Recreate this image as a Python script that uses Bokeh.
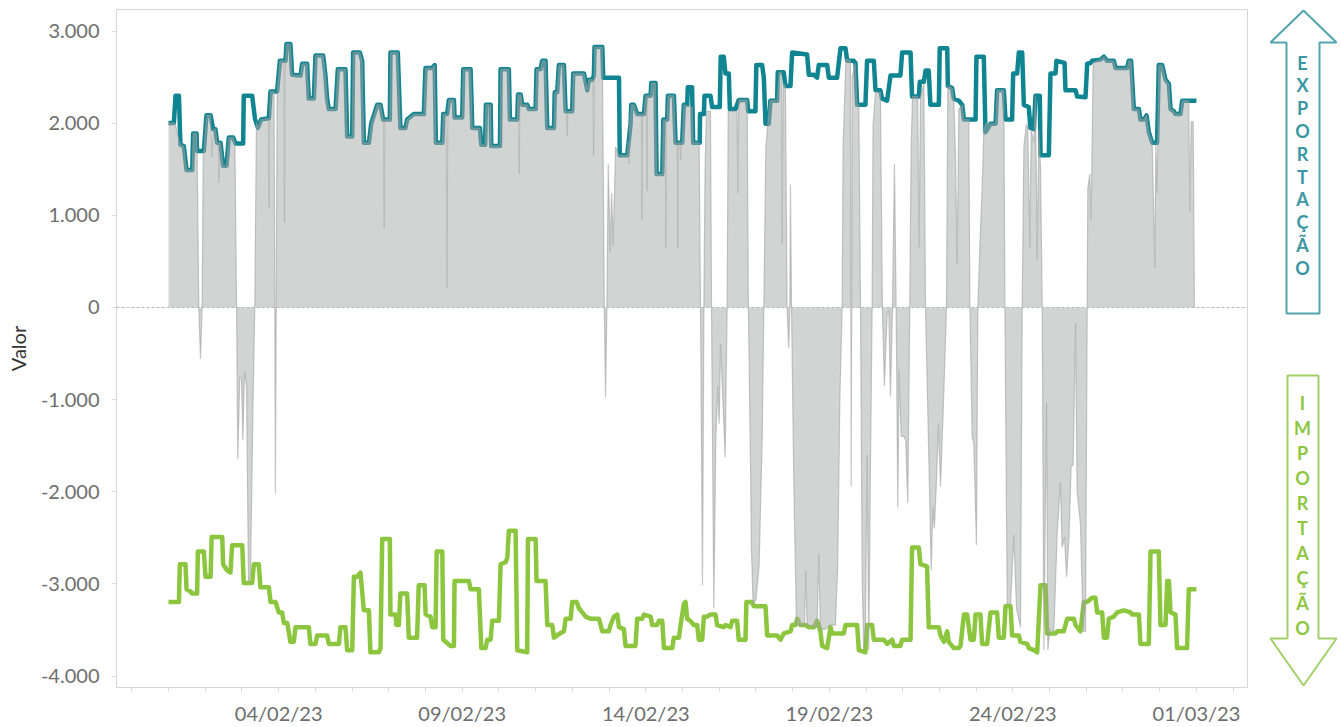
from bokeh.plotting import figure
from bokeh.models import Range1d, FixedTicker, Span
from bokeh.layouts import row
from bokeh.core.properties import value
from bokeh.embed import file_html
from bokeh.resources import INLINE

# ---------------- data (hours since 01/02/23 00:00, MW) ----------------
export_hours = [0, 3.5, 4.6, 6.8, 7.8, 10.0, 11.8, 15.5, 16.1, 18.3, 18.7, 23.1, 24.8, 27.5, 29.2, 30.7, 31.8, 34.0,
                35.7, 37.9, 39.4, 42.3, 43.8, 48.8, 49.2, 54.7, 56.5, 58.5, 60.5, 65.6, 66.7, 71.0, 72.8, 76.5, 77.1,
                79.7, 80.8, 86.3, 87.4, 90.6, 91.7, 95.0, 96.1, 101.1, 102.6, 103.7, 104.8, 109.2, 110.7, 115.7, 116.8,
                120.1, 120.7, 125.1, 126.6, 127.7, 131.0, 132.5, 136.4, 138.6, 140.3, 144.7, 145.1, 149.9, 151.6, 154.9,
                156.0, 160.4, 166.9, 168.0, 172.4, 174.0, 174.8, 179.0, 179.6, 182.2, 183.3, 186.6, 187.0, 192.0, 192.7,
                197.5, 198.6, 203.6, 204.5, 207.0, 207.5, 210.6, 211.0, 216.7, 217.1, 222.5, 223.2, 228.0, 228.5, 230.2,
                231.3, 234.5, 235.6, 240.0, 240.6, 243.2, 244.3, 246.5, 247.6, 252.0, 252.5, 254.1, 255.2, 258.5, 259.6,
                263.9, 264.6, 271.6, 273.8, 274.8, 277.0, 278.1, 278.5, 283.6, 284.2, 294.5, 295.0, 299.9, 302.1, 302.5,
                304.3, 306.4, 310.8, 311.9, 315.2, 315.6, 318.4, 319.1, 322.8, 323.5, 326.0, 326.5, 330.4, 331.5, 335.8,
                336.9, 339.1, 339.5, 342.3, 343.0, 347.3, 347.5, 350.0, 350.4, 354.3, 355.4, 360.4, 361.0, 363.0, 364.1,
                366.3, 367.0, 370.7, 372.8, 378.3, 379.0, 383.7, 384.3, 388.1, 389.2, 390.3, 392.4, 393.5, 397.9, 398.3,
                402.2, 403.3, 406.6, 407.7, 417.5, 418.6, 421.9, 424.0, 425.1, 430.6, 431.7, 437.1, 439.3, 442.6, 443.7,
                448.0, 449.1, 450.2, 455.6, 456.7, 461.1, 462.2, 465.4, 466.5, 469.8, 472.0, 478.5, 479.6, 485.1, 486.1,
                490.5, 491.2, 493.8, 494.9, 497.0, 498.1, 503.6, 504.2, 509.1, 509.5, 512.3, 513.4, 516.7, 518.9, 520.0,
                527.6, 528.2, 533.0, 534.1, 537.4, 540.7, 541.7, 546.1, 547.2, 551.5, 552.2, 554.8, 555.9, 558.1, 559.2,
                562.4, 563.5, 565.7, 566.8, 569.6, 570.1, 575.5, 576.6, 579.9, 580.5, 585.8, 586.4, 593.0, 594.0, 599.5,
                600.6, 602.8, 603.8, 609.3, 611.5, 613.6, 618.0, 619.1, 626.7, 627.8, 629.3, 631.1, 634.4, 635.4, 637.6,
                639.4, 640.9, 643.1, 646.3, 647.4, 649.6, 651.8, 654.0, 655.1, 657.2, 658.3, 661.6, 662.7, 672.0]
export_mw = [2003, 2003, 2299, 2299, 1766, 1752, 1493, 1493, 1889, 1889, 1698, 1698, 2085, 2085, 1935, 1935, 1789, 1789,
             1539, 1539, 1844, 1844, 1780, 1780, 2299, 2299, 2050, 1950, 2040, 2053, 2344, 2344, 2677, 2677, 2859,
             2859, 2526, 2517, 2645, 2645, 2267, 2267, 2736, 2736, 2517, 2267, 2153, 2153, 2586, 2586, 1857,
             1857, 2768, 2768, 2677, 1789, 1789, 1994, 2199, 2199, 2039, 2039, 2768, 2768, 1948, 1948,
             2039, 2099, 2099, 2599, 2599, 2631, 1789, 1789, 2099, 2099, 2253, 2253, 2062, 2062, 2586,
             2586, 1948, 1948, 1766, 1766, 2199, 2199, 1752, 1752, 2586, 2586, 2039, 2039, 2312, 2312,
             2199, 2199, 2153, 2153, 2586, 2586, 2677, 2677, 1948, 1948, 2335, 2335, 2631, 2631, 2130,
             2130, 2540, 2540, 2358, 2472, 2472, 2517, 2827, 2827, 2494, 2494, 1652, 1652, 1994, 2199,
             2199, 2099, 2099, 2299, 2299, 2435, 2435, 1448, 1448, 2039, 2039, 2299, 2299, 1789, 1789,
             2199, 2199, 2390, 2390, 1789, 1789, 2099, 2099, 2299, 2299, 2176, 2176, 2722, 2722, 2540,
             2540, 2153, 2153, 2253, 2253, 2130, 2130, 2631, 2631, 2494, 1994, 1994, 2244, 2244, 2554,
             2554, 2403, 2403, 2768, 2745, 2526, 2526, 2494, 2631, 2631, 2494, 2494, 2813, 2813, 2677,
             2677, 2654, 2199, 2199, 2677, 2677, 2358, 2358, 2267, 2244, 2517, 2517, 2768, 2768, 2290,
             2290, 2449, 2449, 2572, 2572, 2199, 2199, 2813, 2813, 2403, 2381, 2267, 2244, 2199, 2039,
             2039, 2722, 2722, 1903, 1994, 1994, 2358, 2358, 2039, 2039, 2540, 2540, 2768, 2768, 2199,
             2176, 1948, 1935, 2299, 2299, 1652, 1652, 2540, 2540, 2677, 2654, 2358, 2358, 2290, 2281,
             2645, 2654, 2677, 2690, 2722, 2677, 2677, 2599, 2599, 2677, 2677, 2153, 2153, 2039, 2039,
             2085, 1903, 1789, 1789, 2631, 2631, 2472, 2426, 2153, 2130, 2099, 2099, 2244, 2244]

import_hours = [0, 6.8, 7.4, 11.1, 11.8, 14.4, 15.5, 18.7, 19.2, 23.1, 24.2, 27.5, 28.2, 35.1, 35.7, 38.4, 40.5, 41.6,
                48.2, 49.2, 54.7, 55.8, 59.0, 60.1, 65.6, 66.7, 70.0, 72.1, 74.3, 75.4, 77.6, 79.7, 81.9, 83.0, 91.7,
                92.8, 96.1, 97.2, 103.7, 104.8, 111.4, 112.4, 115.7, 116.8, 120.1, 121.2, 123.3, 125.5, 127.7, 131.0,
                132.0, 137.5, 138.6, 139.7, 144.7, 145.1, 148.4, 149.0, 150.6, 151.6, 156.0, 157.1, 162.5, 163.6, 167.4,
                168.1, 171.3, 172.4, 174.6, 175.3, 179.0, 179.6, 184.4, 186.6, 187.0, 196.4, 197.5, 202.9, 204.5, 207.3,
                208.4, 210.6, 211.6, 216.0, 217.1, 220.4, 221.5, 222.5, 226.9, 228.0, 234.5, 235.0, 240.0, 240.6, 246.5,
                247.6, 250.9, 252.0, 255.9, 258.5, 259.6, 262.9, 263.9, 266.8, 268.3, 270.5, 272.7, 275.9, 281.4, 283.6,
                287.9, 289.0, 291.2, 293.4, 294.5, 297.7, 298.8, 305.3, 306.4, 309.7, 310.8, 315.2, 316.2, 319.5, 320.6,
                322.8, 323.9, 329.3, 330.4, 333.7, 334.8, 336.9, 338.0, 339.1, 341.2, 343.4, 345.6, 346.7, 348.9, 350.0,
                352.1, 354.3, 357.6, 358.7, 363.0, 364.1, 367.4, 368.5, 371.7, 372.8, 377.2, 377.8, 381.5, 382.6, 390.3,
                391.4, 397.9, 400.1, 402.2, 406.6, 407.7, 409.9, 411.0, 413.1, 416.4, 418.6, 421.9, 424.0, 426.2, 427.3,
                430.6, 432.8, 433.8, 441.5, 442.6, 450.2, 451.3, 455.6, 456.7, 460.0, 461.1, 467.6, 469.8, 473.1, 474.2,
                478.5, 479.6, 485.1, 486.1, 490.5, 491.6, 495.9, 497.0, 503.6, 504.7, 506.9, 509.1, 510.1, 513.4, 516.7,
                517.8, 520.0, 522.1, 524.3, 526.5, 527.6, 530.8, 531.9, 535.2, 537.4, 541.7, 542.8, 546.1, 547.2, 550.5,
                551.5, 555.9, 557.0, 561.4, 562.4, 565.7, 567.9, 570.1, 573.3, 574.4, 579.9, 581.0, 585.3, 586.4, 587.5,
                591.9, 593.0, 596.2, 598.4, 600.6, 603.8, 606.0, 607.1, 610.4, 611.5, 613.6, 614.7, 618.0, 620.2, 624.5,
                628.9, 630.0, 634.4, 635.4, 640.9, 642.0, 647.4, 648.5, 651.8, 652.9, 654.0, 655.1, 658.3, 659.4, 665.9,
                667.0, 672.0]
import_mw = [-3196, -3196, -2786, -2786, -3059, -3082, -3105, -3105, -2649, -2649, -2922, -2922, -2490, -2490, -2786,
             -2854, -2877, -2581, -2581, -2991, -2991, -2786, -2786, -3036, -3036, -3196, -3196, -3309, -3309, -3423,
             -3423, -3628, -3628, -3469, -3469, -3651, -3651, -3560, -3560, -3651, -3651, -3469, -3469, -3719, -3719,
             -2922, -2922, -2877, -3287, -3287, -3742, -3742, -3696, -2513, -2513, -3332, -3332, -3446, -3446, -3105,
             -3105, -3583, -3583, -3013, -3013, -3332, -3355, -3469, -3469, -2649, -2649, -3605, -3673, -3673, -2968,
             -2968, -3059, -3059, -3696, -3696, -3605, -3605, -3400, -3400, -2786, -2763, -2718, -2422, -2422, -3719,
             -3742, -2513, -2513, -2968, -2968, -3446, -3446, -3583, -3537, -3514, -3378, -3378, -3196, -3196, -3264,
             -3309, -3355, -3378, -3378, -3514, -3514, -3446, -3355, -3332, -3469, -3491, -3673, -3673, -3378, -3378,
             -3332, -3355, -3446, -3446, -3400, -3400, -3696, -3696, -3583, -3583, -3446, -3218, -3196, -3378, -3400,
             -3446, -3446, -3605, -3605, -3355, -3355, -3332, -3332, -3446, -3469, -3446, -3469, -3400, -3400, -3605,
             -3605, -3196, -3196, -3241, -3241, -3560, -3560, -3605, -3537, -3514, -3446, -3446, -3378, -3446, -3446,
             -3469, -3469, -3400, -3514, -3673, -3696, -3469, -3537, -3537, -3446, -3446, -3719, -3742, -3446, -3446,
             -3605, -3605, -3651, -3605, -3673, -3673, -3605, -3605, -2604, -2604, -2786, -2809, -3469, -3469, -3560,
             -3628, -3514, -3628, -3696, -3696, -3673, -3332, -3332, -3605, -3605, -3332, -3332, -3651, -3651, -3309,
             -3309, -3583, -3583, -3241, -3241, -3560, -3560, -3628, -3651, -3696, -3719, -3742, -3013, -3013, -3537,
             -3537, -3514, -3514, -3446, -3378, -3378, -3446, -3514, -3196, -3196, -3150, -3150, -3309, -3309, -3583,
             -3583, -3378, -3355, -3309, -3287, -3309, -3332, -3332, -3651, -3651, -2649, -2649, -3446, -3446, -2968,
             -2968, -3309, -3332, -3696, -3696, -3059, -3059]

flow_hours = [0, 3.5, 4.6, 6.8, 7.8, 10.0, 11.8, 15.5, 16.1, 18.3, 18.7, 19.8, 20.9, 22.0, 22.7, 23.1, 24.8, 27.5, 28.5,
              29.2, 30.7, 31.8, 32.6, 32.9, 33.3, 34.0, 35.7, 37.9, 39.4, 42.3, 43.4, 44.5, 45.3, 46.6, 47.7, 48.6,
              49.7, 51.0, 52.3, 53.6, 55.3, 56.4, 57.5, 58.5, 60.5, 65.4, 65.8, 66.2, 66.7, 69.0, 69.5, 69.9, 70.4,
              71.0, 72.8, 75.5, 75.8, 76.2, 76.5, 77.1, 79.7, 80.8, 86.3, 87.4, 90.6, 91.7, 95.0, 96.1, 101.1, 102.6,
              103.7, 104.8, 109.2, 110.7, 115.7, 116.8, 120.1, 120.7, 125.1, 126.6, 127.7, 131.0, 132.5, 136.4, 138.6,
              140.3, 140.7, 141.0, 141.4, 144.7, 145.1, 149.9, 151.6, 154.9, 156.0, 160.4, 166.9, 168.0, 172.4, 174.0,
              174.8, 179.0, 179.6, 181.6, 182.0, 182.6, 183.3, 186.6, 187.0, 192.0, 192.7, 197.5, 198.6, 203.6, 204.5,
              207.0, 207.5, 210.6, 211.0, 216.7, 217.1, 222.5, 223.2, 228.0, 228.5, 229.0, 229.3, 229.7, 230.2, 231.3,
              234.5, 235.6, 240.0, 240.6, 243.2, 244.3, 246.5, 247.6, 252.0, 252.5, 254.1, 255.2, 258.5, 259.6, 260.4,
              260.7, 261.0, 263.9, 264.6, 271.6, 273.8, 274.8, 277.6, 277.9, 278.5, 283.6, 284.9, 285.7, 286.6, 287.5,
              288.8, 289.7, 290.7, 292.3, 294.5, 299.9, 300.5, 301.0, 301.5, 302.5, 304.3, 306.4, 309.2, 309.5, 309.9,
              310.8, 311.9, 312.5, 312.8, 313.2, 315.2, 315.6, 318.4, 319.1, 322.8, 323.5, 324.8, 325.1, 325.5, 326.0,
              326.5, 330.4, 331.5, 332.6, 332.9, 333.3, 334.6, 334.8, 335.3, 335.8, 336.9, 342.3, 343.0, 346.9, 347.8,
              349.1, 350.0, 350.8, 351.7, 354.3, 355.0, 356.5, 357.8, 359.1, 360.0, 360.9, 362.2, 363.9, 365.2, 365.9,
              371.7, 372.2, 372.8, 378.3, 379.1, 380.5, 381.1, 382.2, 384.0, 386.1, 388.1, 389.2, 390.5, 391.8, 393.1,
              397.9, 399.2, 400.7, 401.2, 401.8, 403.3, 404.4, 405.5, 406.2, 406.6, 407.3, 408.8, 410.5, 415.8, 416.6,
              417.5, 424.0, 425.1, 426.2, 429.5, 432.8, 436.0, 437.5, 438.9, 440.4, 441.0, 442.6, 443.0, 445.8, 446.1,
              446.3, 446.6, 447.0, 449.0, 450.2, 451.3, 452.4, 453.5, 454.5, 455.6, 456.7, 457.8, 458.9, 460.0, 460.6,
              462.2, 465.4, 466.7, 468.0, 469.8, 470.9, 472.0, 473.3, 474.6, 475.7, 476.8, 477.6, 479.0, 480.7, 482.0,
              483.3, 484.6, 485.5, 486.4, 489.8, 490.7, 491.6, 493.8, 494.9, 497.3, 498.6, 499.7, 500.7, 502.0, 503.4,
              504.7, 506.9, 508.6, 509.5, 512.3, 513.4, 514.5, 515.6, 516.7, 518.9, 520.0, 523.2, 523.9, 525.4, 526.5,
              528.2, 529.1, 530.8, 531.9, 533.0, 534.1, 540.7, 541.7, 546.1, 546.8, 548.3, 550.5, 552.6, 554.4, 557.0,
              558.1, 559.2, 560.9, 561.8, 563.1, 564.0, 565.7, 566.8, 567.9, 569.0, 570.1, 571.2, 572.3, 574.0, 574.9,
              576.2, 578.8, 581.0, 583.1, 584.2, 585.8, 587.1, 588.6, 590.1, 591.4, 593.0, 594.0, 596.2, 598.0, 599.5,
              600.6, 601.0, 602.3, 603.2, 604.5, 607.1, 609.3, 611.5, 613.6, 618.0, 619.1, 626.7, 627.8, 629.3, 631.1,
              634.4, 635.4, 637.6, 639.4, 640.9, 643.1, 644.8, 645.5, 646.3, 647.4, 649.6, 651.8, 654.0, 655.1, 657.2,
              658.3, 661.6, 662.7, 667.0, 667.7, 668.6, 669.9, 670.7]
flow_mw = [2003, 2003, 1980, 1820, 1766, 1752, 1493, 1493, 1889, 1889, 1698, 0, -556, 0, 1698, 1698, 2085, 2085, 1630,
           1935, 1935, 1789, 1789, 1357, 1789, 1789, 1539, 1539, 1844, 1844, 1780, 0, -1648, -760, -760, -1443,
           -692, -851, -2991, -2900, -988, 0, 2017, 1950, 2040, 2053, 1083, 2200, 2344, 2344, 0, -2012, 0,
           2344, 2677, 2677, 924, 2677, 2677, 2859, 2859, 2526, 2517, 2645, 2645, 2267, 2267, 2736, 2736, 2517,
           2267, 2153, 2153, 2586, 2586, 1857, 1857, 2768, 2768, 2677, 1789, 1789, 1994, 2199, 2199,
           2039, 2039, 856, 2039, 2039, 2768, 2768, 1948, 1948, 2039, 2099, 2099, 2599, 2599, 2631,
           1789, 1789, 2099, 2099, 218, 2150, 2253, 2253, 2062, 2062, 2586, 2586, 1948, 1948, 1766,
           1766, 2199, 2199, 1752, 1752, 2586, 2586, 2039, 2039, 2312, 2312, 1448, 2312, 2312, 2199,
           2199, 2153, 2153, 2586, 2586, 2677, 2677, 1948, 1948, 2335, 2335, 2631, 2631, 2130, 2130,
           1857, 2130, 2130, 2540, 2540, 2358, 2472, 2472, 1652, 2827, 2827, 0, -978, 0, 1561,
           606, 1243, 673, 1743, 1652, 1652, 1800, 1561, 1994, 2199, 2199, 2099, 2099, 947, 2099,
           2099, 2299, 2299, 1265, 2299, 2299, 2435, 2435, 1448, 1448, 2039, 2039, 651, 2039, 2039,
           2299, 2299, 1789, 1789, 651, 1789, 1789, 1607, 1789, 1789, 2199, 2176, 1789, 1789, 0,
           -3013, 0, 1516, 2130, 2130, 0, -3264, -1443, -851, -1261, -396, -897, -1625, 0, 2130,
           2130, 1243, 2253, 2253, 0, -1716, -2627, -3218, -3173, -2809, -1443, 0, 1743, 1994, 2244,
           2244, 2554, 2554, 696, 2426, 2403, 0, -442, 0, 1334, 0, -1898, -3446, -3446, -2854,
           -3446, -3469, -2672, -3491, -3491, -3446, -3446, -2809, -988, 0, 1743, 2563, 2700, 2677, 0,
           -1944, 0, 2500, 2654, 2199, 2199, 0, -2945, -3719, -3491, -1602, -3719, -1716, 0, 1971,
           2335, 2335, 0, -851, -77, -32, -965, 0, 1561, 0, -2171, -669, -1398, -1398, -1443,
           -2125, 0, 1743, 2290, 2290, 651, 2290, 2426, 0, -1807, -2854, -2171, -2399, -1898, -1261,
           -1944, -897, 0, 2403, 2381, 2244, 1652, 469, 2153, 2199, 2039, 2039, 0, -1398, -1489,
           -2581, 0, 833, 1288, 1903, 1994, 1994, 2358, 2358, 0, -3218, -3218, -2467, -3264, -3469,
           0, 1743, 1994, 1948, 651, 1926, 1789, 2299, 514, 1926, 1516, 0, -3719, -1033, -3719,
           -3491, -3514, -2445, -1898, -2604, -2490, -2922, -2536, -1716, -1716, -168, -1989, -2353, -3514, -3514,
           0, 1288, 1448, 947, 2654, 2677, 2690, 2722, 2677, 2677, 2599, 2599, 2677, 2677, 2153,
           2153, 2039, 2039, 2085, 1903, 1789, 423, 1789, 1243, 2631, 2631, 2472, 2426, 2153, 2130,
           2099, 2099, 2244, 2244, 1038, 2017, 2017, 0]

y_ticks = [-4000, -3000, -2000, -1000, 0, 1000, 2000, 3000]
y_tick_labels = ["-4.000", "-3.000", "-2.000", "-1.000", "0", "1.000", "2.000", "3.000"]
x_ticks = [72, 192, 312, 432, 552, 672]
x_tick_labels = ["04/02/23", "09/02/23", "14/02/23", "19/02/23", "24/02/23", "01/03/23"]
x_minor_ticks = list(range(-24, 697, 24))

export_word = "EXPORTAÇÃO"
import_word = "IMPORTAÇÃO"

# ---------------- main chart ----------------
FONT = "Lato"
TOP, BOTTOM = 9, 40
p = figure(width=1262, height=727, output_backend="svg", toolbar_location=None,
           x_range=Range1d(-34.0, 705.4), y_range=Range1d(-4124, 3234),
           min_border_left=116, min_border_right=15, min_border_top=TOP, min_border_bottom=BOTTOM)
p.background_fill_color = "white"
p.border_fill_color = "white"
p.outline_line_color = "#d6d6d6"
p.grid.visible = False

p.line(export_hours, export_mw, line_color="#0e8591", line_width=4.5, line_join="round")
p.line(import_hours, import_mw, line_color="#8cc63f", line_width=4.5, line_join="round")
p.varea(x=flow_hours, y1=0, y2=flow_mw, fill_color="#a6a8a8", fill_alpha=0.5)
p.line(flow_hours, flow_mw, line_color="#9a9a9a", line_alpha=0.55, line_width=1.2)

p.add_layout(Span(location=0, dimension="width", line_color="#b8b8b8", line_dash="3 2", line_width=1))

p.xaxis.ticker = FixedTicker(ticks=x_ticks, minor_ticks=x_minor_ticks)
p.xaxis.major_label_overrides = dict(zip(x_ticks, x_tick_labels))
p.yaxis.ticker = FixedTicker(ticks=y_ticks, minor_ticks=[])
p.yaxis.major_label_overrides = dict(zip(y_ticks, y_tick_labels))

for ax in (p.xaxis[0], p.yaxis[0]):
    ax.axis_line_color = "#d6d6d6"
    ax.major_tick_line_color = "#dcdcdc"
    ax.minor_tick_line_color = "#dcdcdc"
    ax.major_tick_in = 0
    ax.minor_tick_in = 0
    ax.major_label_text_font = FONT
    ax.major_label_text_font_size = "20px"
    ax.major_label_text_color = "#6e6e6e"

p.xaxis.major_tick_out = 4
p.xaxis.minor_tick_out = 4
p.xaxis.major_label_standoff = 9
p.yaxis.major_tick_out = 5
p.yaxis.minor_tick_line_color = None
p.yaxis.major_label_standoff = 12
p.yaxis.axis_label = "Valor"
p.yaxis.axis_label_text_font = FONT
p.yaxis.axis_label_text_font_size = "20px"
p.yaxis.axis_label_text_font_style = "normal"
p.yaxis.axis_label_text_color = "#333333"
p.yaxis.axis_label_standoff = 8

# ---------------- arrows panel (frame aligned with the main frame: page y 9..687) ----------------
a = figure(width=79, height=727, output_backend="svg", toolbar_location=None,
           x_range=Range1d(1262, 1341), y_range=Range1d(727 - BOTTOM, TOP),
           x_axis_location=None, y_axis_location=None,
           min_border_left=0, min_border_right=0, min_border_top=TOP, min_border_bottom=BOTTOM)
a.outline_line_color = None
a.background_fill_color = "white"
a.border_fill_color = "white"
a.grid.visible = False

a.patch([1303, 1336, 1319, 1319, 1286, 1286, 1270], [10, 42, 42, 313, 313, 42, 42],
        fill_color="white", line_color="#52a4ae", line_width=2)
a.patch([1287, 1318, 1318, 1336, 1303, 1270, 1287], [375, 375, 638, 638, 685, 638, 638],
        fill_color="white", line_color="#a2cf6a", line_width=2)

a.text(x=[1302] * len(export_word), y=[62 + i * 22.8 for i in range(len(export_word))],
       text=list(export_word), text_align="center", text_baseline="middle",
       text_font=value(FONT), text_font_size="18px", text_font_style="bold", text_color="#3a97a3")
a.text(x=[1302] * len(import_word), y=[402 + i * 25 for i in range(len(import_word))],
       text=list(import_word), text_align="center", text_baseline="middle",
       text_font=value(FONT), text_font_size="18px", text_font_style="bold", text_color="#8dc63f")

layout = row(p, a)
open("out.html", "w").write(file_html(layout, INLINE))
